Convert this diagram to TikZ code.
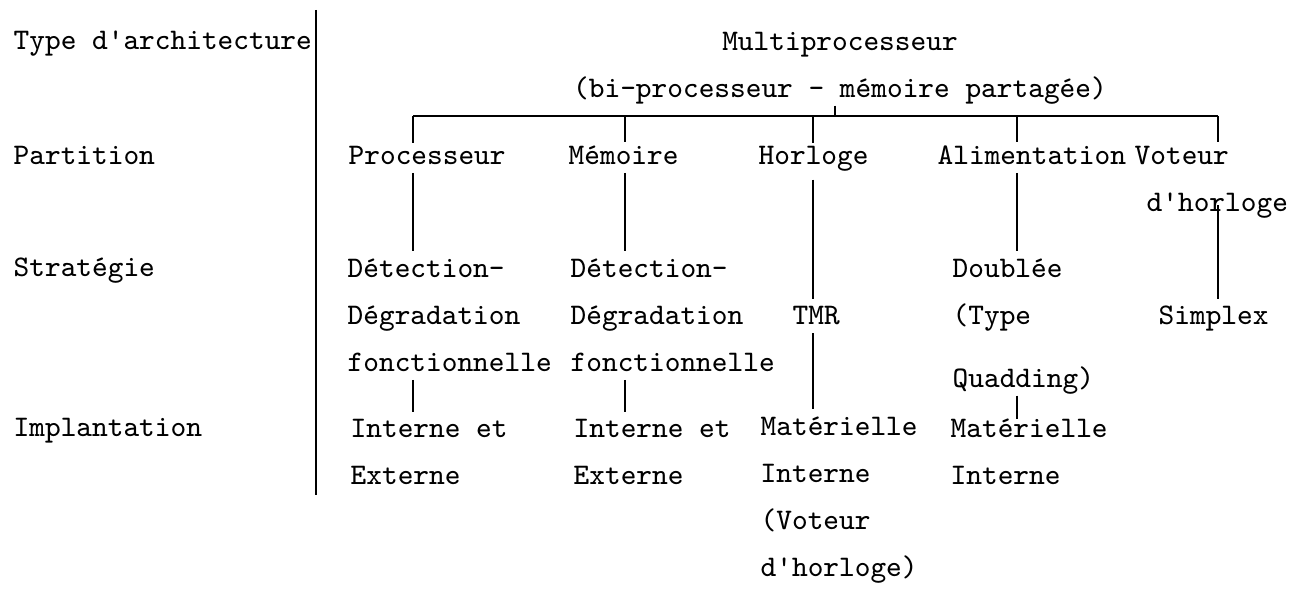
\documentclass[tikz,border=0pt]{standalone}
\usepackage{fontspec}
\usepackage{tikz}
\usetikzlibrary{positioning,calc}

\newcommand{\typewriter}{\fontsize{8.5}{13.4}\selectfont\ttfamily}

\tikzset{
  txt/.style={draw=none, anchor=base west, inner sep=0pt, align=left, font=\typewriter},
  link/.style={line width=0.6pt, shorten <=2pt, shorten >=2pt}
}

\begin{document}
\begin{tikzpicture}[x=0.01cm, y=-0.01cm]
\useasboundingbox (0,0) rectangle (1302,589);

% Level names (left column)
\node[txt] (typ) at (13,50) {Type d'architecture};
\node[txt] (part) at (13,165) {Partition};
\node[txt] (strat) at (13,277) {Stratégie};
\node[txt] (impl) at (13,437) {Implantation};

% Separator
\draw[line width=0.6pt] (316,10) -- (316,495);

% Architecture (multi-line nodes sit on their last line)
\node[txt, anchor=base, align=center] (root) at (840,98)
  {Multiprocesseur\\(bi-processeur - mémoire partagée)};

% Partition
\node[txt] (proc) at (348,165) {Processeur};
\node[txt] (mem) at (568,165) {Mémoire};
\node[txt] (horl) at (758,165) {Horloge};
\node[txt] (alim) at (937,165) {Alimentation};
\node[txt] (vot) at (1134,212) {Voteur\\\hspace*{0.12cm}d'horloge};

% Strategie
\node[txt] (detp) at (347,372) {Détection-\\Dégradation\\fonctionnelle};
\node[txt] (detm) at (570,372) {Détection-\\Dégradation\\fonctionnelle};
\node[txt] (tmr) at (792,325) {TMR};
\node[txt] (dbl) at (952,388) {Doublée\\(Type\\[0.16cm]Quadding)};
\node[txt] (simp) at (1158,325) {Simplex};

% Implantation
\node[txt] (intp) at (350,485) {Interne et\\Externe};
\node[txt] (intm) at (573,485) {Interne et\\Externe};
\node[txt] (math) at (760,577) {Matérielle\\Interne\\(Voteur\\d'horloge)};
\node[txt] (mata) at (950,485) {Matérielle\\Interne};

% Tree columns
\coordinate (bar) at (0,116);
\coordinate (cR) at (835,0);
\coordinate (cP) at (413,0);
\coordinate (cM) at (625,0);
\coordinate (cH) at (813,0);
\coordinate (cA) at (1017,0);
\coordinate (cV) at (1218,0);

% root to partition
\draw[line width=0.6pt] (root.south -| cR) -- (bar -| cR);
\draw[line width=0.6pt] (bar -| cP) -- (bar -| cV);
\foreach \c/\n in {cP/proc, cM/mem, cH/horl, cA/alim, cV/vot}
  \draw[link, shorten <=0pt, shorten >=1pt] (bar -| \c) -- (\n.north -| \c);

% partition to strategie
\draw[link] (proc.south -| cP) -- (detp.north -| cP);
\draw[link] (mem.south -| cM) -- (detm.north -| cM);
\draw[link] (horl.south -| cH) -- (tmr.north -| cH);
\draw[link] (alim.south -| cA) -- (dbl.north -| cA);
\draw[link, shorten <=-4pt] (vot.south -| cV) -- (simp.north -| cV);

% strategie to implantation
\draw[link] (detp.south -| cP) -- (intp.north -| cP);
\draw[link] (detm.south -| cM) -- (intm.north -| cM);
\draw[link] (tmr.south -| cH) -- (math.north -| cH);
\draw[link, shorten <=0pt, shorten >=0pt] (dbl.south -| cA) -- (mata.north -| cA);

\end{tikzpicture}
\end{document}
